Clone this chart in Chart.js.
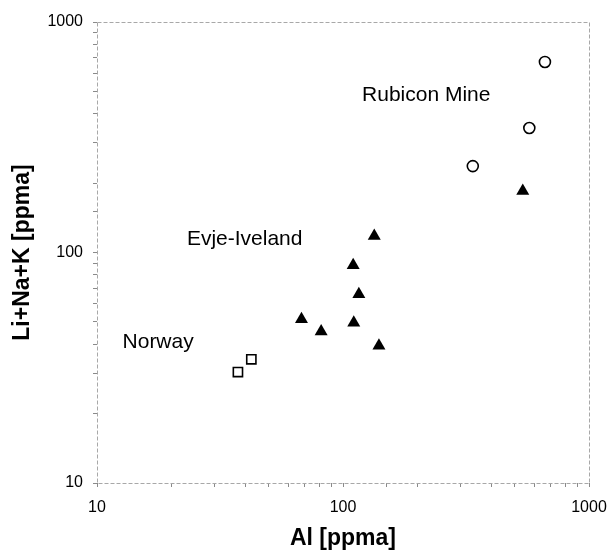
<!DOCTYPE html>
<html>
<head>
<meta charset="utf-8">
<title>Li+Na+K vs Al</title>
<script src="https://cdn.jsdelivr.net/npm/chart.js@4/dist/chart.umd.min.js"></script>
<style>
  html, body { margin: 0; padding: 0; background: #fff; }
  #wrap { width: 609px; height: 555px; position: relative; }
</style>
</head>
<body>
<div id="wrap"><canvas id="chart"></canvas></div>
<script>
/* Li+Na+K against Al (ppma), log-log, three quartz localities */
(function () {
  'use strict';

  // Norway (open squares)
  const norwayAl  = [37.4, 42.4];
  const norwayAlk = [30.3, 34.4];

  // Evje-Iveland (filled triangles)
  const evjeAl  = [67.8, 81.5, 110.6, 110, 116, 134, 140, 538];
  const evjeAlk = [51.3, 45.4, 49.6, 88.1, 65.9, 118, 39.4, 185];

  // Rubicon Mine (open circles)
  const rubiconAl  = [337, 572, 662];
  const rubiconAlk = [237, 347, 671];

  const groupNames = ['Norway', 'Evje-Iveland', 'Rubicon Mine'];
  const xTickLabels = [10, 100, 1000];
  const yTickLabels = [10, 100, 1000];

  const FONT = '"Liberation Sans", Arial, Helvetica, sans-serif';
  const zip = (xs, ys) => xs.map((x, i) => ({ x, y: ys[i] }));
  const decadeLabel = (list) => (v) => list.includes(Math.round(v)) && Math.abs(v - Math.round(v)) < 1e-6 ? String(Math.round(v)) : '';

  // light dashed frame round the plot area
  const framePlugin = {
    id: 'frame',
    afterDraw(chart) {
      const { ctx, chartArea: a } = chart;
      ctx.save();
      ctx.strokeStyle = '#a8a8a8';
      ctx.lineWidth = 1;
      ctx.setLineDash([4, 2]);
      ctx.strokeRect(Math.round(a.left) + 0.5, Math.round(a.top) + 0.5, Math.round(a.right - a.left), Math.round(a.bottom - a.top));
      ctx.restore();
    },
  };

  // locality names, anchored in data units (left edge, baseline)
  const groupLabelPlugin = {
    id: 'groupLabels',
    afterDatasetsDraw(chart, args, opts) {
      const { ctx, scales: { x, y } } = chart;
      ctx.save();
      ctx.fillStyle = '#000';
      ctx.font = opts.font;
      ctx.textAlign = 'left';
      ctx.textBaseline = 'alphabetic';
      opts.anchors.forEach((p, i) => {
        ctx.fillText(groupNames[i], x.getPixelForValue(p[0]), y.getPixelForValue(p[1]));
      });
      ctx.restore();
    },
  };

  const common = { showLine: false, borderColor: '#000', borderWidth: 1.6, hoverRadius: 0 };

  new Chart(document.getElementById('chart').getContext('2d'), {
    type: 'scatter',
    data: {
      datasets: [
        Object.assign({}, common, { label: groupNames[0], data: zip(norwayAl, norwayAlk),
          pointStyle: 'rect', pointRadius: 6.5, backgroundColor: '#fff' }),
        Object.assign({}, common, { label: groupNames[1], data: zip(evjeAl, evjeAlk),
          pointStyle: 'triangle', pointRadius: 7.5, borderWidth: 0, backgroundColor: '#000' }),
        Object.assign({}, common, { label: groupNames[2], data: zip(rubiconAl, rubiconAlk),
          pointStyle: 'circle', pointRadius: 5.5, backgroundColor: '#fff' }),
      ],
    },
    options: {
      responsive: true, maintainAspectRatio: false,
      animation: false,
      events: [],
      layout: { padding: { top: 22, right: 20, left: 0, bottom: 0 } },
      plugins: {
        legend: { display: false },
        tooltip: { enabled: false },
        groupLabels: {
          font: '21px ' + FONT,
          anchors: [[12.7, 38.7], [23.2, 108], [119.5, 454]],
        },
      },
      scales: {
        x: {
          type: 'logarithmic', min: 10, max: 1000,
          // fixed height; end labels may hang past the plot edges
          afterFit: (s) => { s.height = 72; s.paddingLeft = 0; s.paddingRight = 0; },
          border: { display: false },
          grid: { drawOnChartArea: false, drawTicks: true, tickLength: 4, tickColor: '#8a8a8a' },
          ticks: { autoSkip: false, maxRotation: 0, padding: 11, color: '#000',
            font: { family: FONT, size: 16 }, callback: decadeLabel(xTickLabels) },
          title: { display: true, text: 'Al [ppma]', color: '#000', padding: { top: 0, bottom: 3 },
            font: { family: FONT, size: 23, weight: 'bold' } },
        },
        y: {
          type: 'logarithmic', min: 10, max: 1000,
          afterFit: (s) => { s.width = 97; s.paddingTop = 0; s.paddingBottom = 0; },
          border: { display: false },
          grid: { drawOnChartArea: false, drawTicks: true, tickLength: 4, tickColor: '#8a8a8a' },
          ticks: { autoSkip: false, padding: 10, color: '#000',
            font: { family: FONT, size: 16 }, callback: decadeLabel(yTickLabels) },
          title: { display: true, text: 'Li+Na+K [ppma]', color: '#000', padding: { top: 9, bottom: 0 },
            font: { family: FONT, size: 23, weight: 'bold' } },
        },
      },
    },
    plugins: [framePlugin, groupLabelPlugin],
  });
})();
</script>
</body>
</html>
